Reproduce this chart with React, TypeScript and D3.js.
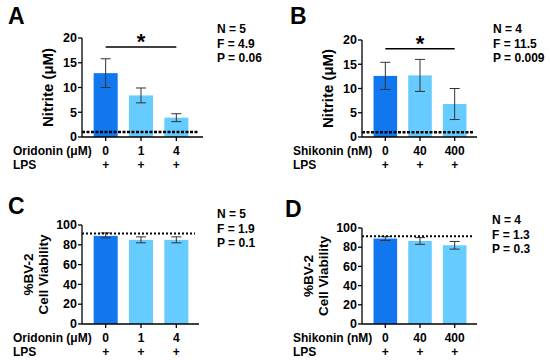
import * as d3 from 'd3';

// panel A - oridonin nitrite
const oriDoses = ["0", "1", "4"];
const oriNitrite = [12.9, 8.4, 3.9];
const oriNitriteLo = [10.0, 6.9, 3.1];
const oriNitriteHi = [15.8, 9.9, 4.7];
// panel B - shikonin nitrite
const shiDoses = ["0", "40", "400"];
const shiNitrite = [12.6, 12.7, 6.8];
const shiNitriteLo = [9.8, 9.4, 3.6];
const shiNitriteHi = [15.4, 16.0, 10.0];
// panel C - oridonin viability
const oriViab = [89, 85, 85];
const oriViabLo = [87, 82, 82];
const oriViabHi = [92, 88, 88];
// panel D - shikonin viability
const shiViab = [89, 86.5, 82];
const shiViabLo = [87, 83, 78];
const shiViabHi = [91, 90, 86];

const nitriteTicks = [0, 5, 10, 15, 20];
const viabTicks = [0, 20, 40, 60, 80, 100];

const FONT = "'Liberation Sans', Arial, sans-serif";
const DARK = "#1177ee";
const LIGHT = "#66ccff";

type PanelProps = {
  ox: number; oy: number; letter: string; letterX: number; letterY: number;
  axisX: number; axisEnd: number; y0: number; yTop: number;
  yMax: number; ticks: number[];
  cats: string[]; vals: number[]; lo: number[]; hi: number[];
  bandL: number; bandR: number;
  drugLabel: string; labelX: number; labelY: number;
  yTitle: string[]; yTitleSize: number; yTitleOff: number; dashVal: number; dashThin: boolean;
  sig: boolean; stats: string[]; statsX: number; statsY: number;
};

function Panel(p: PanelProps) {
  const y = d3.scaleLinear().domain([0, p.yMax]).range([p.y0, p.yTop]);
  const x = d3.scaleBand().domain(p.cats).range([p.bandL, p.bandR]).paddingInner(0.32).paddingOuter(0.16);
  const bw = x.bandwidth();
  const cx = (c: string) => (x(c) ?? 0) + bw / 2;
  const midY = (p.y0 + p.yTop) / 2;
  return (
    <g transform={`translate(${p.ox},${p.oy})`} fontFamily={FONT} fontWeight="bold">
      <text x={p.letterX} y={p.letterY} fontSize={23}>{p.letter}</text>
      {p.cats.map((c, i) => (
        <rect key={c} x={x(c)} y={y(p.vals[i])} width={bw} height={p.y0 - y(p.vals[i])}
          fill={i === 0 ? DARK : LIGHT} />
      ))}
      {p.cats.map((c, i) => (
        <g key={"e" + c} stroke="#333" strokeWidth={1}>
          <line x1={cx(c)} x2={cx(c)} y1={y(p.lo[i])} y2={y(p.hi[i])} />
          <line x1={cx(c) - 5} x2={cx(c) + 5} y1={y(p.lo[i])} y2={y(p.lo[i])} />
          <line x1={cx(c) - 5} x2={cx(c) + 5} y1={y(p.hi[i])} y2={y(p.hi[i])} />
        </g>
      ))}
      <line x1={p.axisX} x2={p.axisEnd - 4} y1={y(p.dashVal)} y2={y(p.dashVal)}
        stroke="#000" strokeWidth={p.dashThin ? 2 : 2.5} strokeDasharray={p.dashThin ? "2,2" : "3,1.5"} />
      {/* axes */}
      <line x1={p.axisX} x2={p.axisX} y1={p.yTop} y2={p.y0} stroke="#000" strokeWidth={1.3} />
      <line x1={p.axisX} x2={p.axisEnd} y1={p.y0} y2={p.y0} stroke="#000" strokeWidth={1.3} />
      {p.ticks.map(t => (
        <g key={t}>
          <line x1={p.axisX - 4} x2={p.axisX} y1={y(t)} y2={y(t)} stroke="#000" strokeWidth={1.3} />
          <text x={p.axisX - 5} y={y(t)} dy="0.34em" textAnchor="end" fontSize={12.5}>{t}</text>
        </g>
      ))}
      {p.cats.map(c => (
        <g key={"t" + c}>
          <line x1={cx(c)} x2={cx(c)} y1={p.y0} y2={p.y0 + 4} stroke="#000" strokeWidth={1.3} />
          <text x={cx(c)} y={p.labelY} textAnchor="middle" fontSize={12}>{c}</text>
          <text x={cx(c)} y={p.labelY + 14} textAnchor="middle" fontSize={12}>+</text>
        </g>
      ))}
      <text x={p.labelX} y={p.labelY} fontSize={12}>{p.drugLabel}</text>
      <text x={p.labelX} y={p.labelY + 14} fontSize={12}>LPS</text>
      {p.yTitle.map((t, i) => (
        <text key={t} transform={`translate(${p.axisX - p.yTitleOff - (p.yTitle.length - 1 - i) * 15},${midY}) rotate(-90)`}
          textAnchor="middle" fontSize={p.yTitleSize}>{t}</text>
      ))}
      {p.sig && (
        <g>
          <line x1={cx(p.cats[0])} x2={cx(p.cats[2])} y1={y(18.2)} y2={y(18.2)} stroke="#000" strokeWidth={1.5} />
          <text x={cx(p.cats[1])} y={y(18.2) + 2} textAnchor="middle" fontSize={22}>*</text>
        </g>
      )}
      {p.stats.map((s, i) => (
        <text key={s} x={p.statsX} y={p.statsY + i * 14.5} fontSize={12}>{s}</text>
      ))}
    </g>
  );
}

export default function App() {
  return (
    <svg width={550} height={360} style={{ position: "absolute", left: 0, top: 0 }}>
      <rect width={550} height={360} fill="#fff" />
      <Panel ox={0} oy={0} letter="A" letterX={8} letterY={24} axisX={82} axisEnd={203} y0={137} yTop={38}
        yMax={20} ticks={nitriteTicks} cats={oriDoses} vals={oriNitrite} lo={oriNitriteLo} hi={oriNitriteHi}
        bandL={88} bandR={194} drugLabel="Oridonin (μM)" labelX={13} labelY={155}
        yTitle={["Nitrite (μM)"]} yTitleSize={15} yTitleOff={29} dashVal={1.0} dashThin={false} sig={true}
        stats={["N = 5", "F = 4.9", "P = 0.06"]} statsX={217} statsY={33} />
      <Panel ox={275} oy={0} letter="B" letterX={15} letterY={24} axisX={87} axisEnd={202} y0={137} yTop={40}
        yMax={20} ticks={nitriteTicks} cats={shiDoses} vals={shiNitrite} lo={shiNitriteLo} hi={shiNitriteHi}
        bandL={93} bandR={197} drugLabel="Shikonin (nM)" labelX={18} labelY={155}
        yTitle={["Nitrite (μM)"]} yTitleSize={15} yTitleOff={29} dashVal={1.0} dashThin={false} sig={true}
        stats={["N = 4", "F = 11.5", "P = 0.009"]} statsX={218} statsY={33} />
      <Panel ox={0} oy={180} letter="C" letterX={8} letterY={34} axisX={82} axisEnd={199} y0={144} yTop={45}
        yMax={100} ticks={viabTicks} cats={oriDoses} vals={oriViab} lo={oriViabLo} hi={oriViabHi}
        bandL={88} bandR={194} drugLabel="Oridonin (μM)" labelX={13} labelY={162}
        yTitle={["%BV-2", "Cell Viability"]} yTitleSize={13.5} yTitleOff={34} dashVal={91.5} dashThin={true} sig={false}
        stats={["N = 5", "F = 1.9", "P = 0.1"]} statsX={217} statsY={38} />
      <Panel ox={275} oy={180} letter="D" letterX={10} letterY={37} axisX={87} axisEnd={202} y0={144} yTop={48}
        yMax={100} ticks={viabTicks} cats={shiDoses} vals={shiViab} lo={shiViabLo} hi={shiViabHi}
        bandL={93} bandR={197} drugLabel="Shikonin (nM)" labelX={18} labelY={162}
        yTitle={["%BV-2", "Cell Viability"]} yTitleSize={13.5} yTitleOff={34} dashVal={91.5} dashThin={true} sig={false}
        stats={["N = 4", "F = 1.3", "P = 0.3"]} statsX={217} statsY={44} />
    </svg>
  );
}
